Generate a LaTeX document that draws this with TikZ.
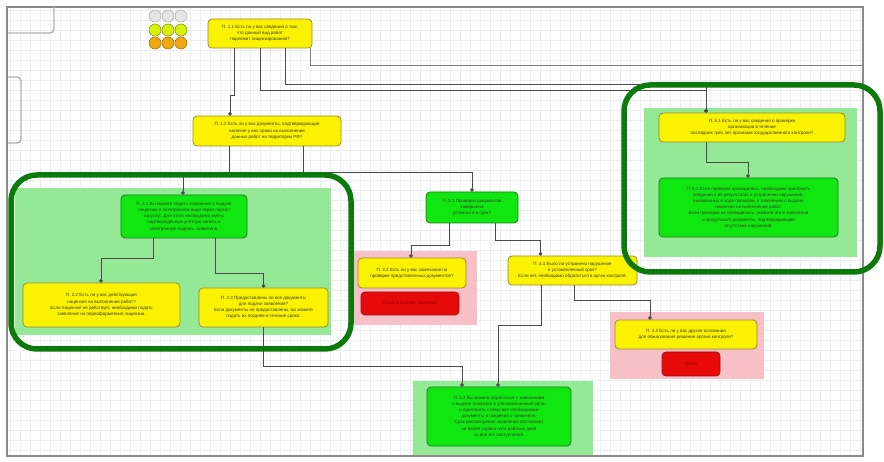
\documentclass[tikz,border=0pt]{standalone}
\usepackage{fontspec}
\setmainfont{Liberation Sans}
\usetikzlibrary{arrows.meta}

\definecolor{yfill}{HTML}{FAF200}
\definecolor{ydraw}{HTML}{9A8A30}
\definecolor{gfill}{HTML}{10E610}
\definecolor{gdraw}{HTML}{1F7A1F}
\definecolor{rfill}{HTML}{E60A0A}
\definecolor{rdraw}{HTML}{A01010}
\definecolor{rtext}{HTML}{8A0000}
\definecolor{panelgreen}{HTML}{95E895}
\definecolor{panelpink}{HTML}{F7BFC6}
\definecolor{ringgreen}{HTML}{0B7A0B}
\definecolor{connc}{HTML}{4A4A4A}
\definecolor{gridc}{HTML}{ECEFF2}
\definecolor{framec}{HTML}{8A8A8A}
\definecolor{txt}{HTML}{3A3A2A}
\definecolor{amber}{HTML}{F0A810}

\tikzset{
  box/.style={rounded corners=4pt, line width=0.8pt, align=center, inner sep=1pt,
    font=\fontsize{4.5}{6.2}\selectfont, text=txt},
  ybox/.style={box, fill=yfill, draw=ydraw},
  gbox/.style={box, fill=gfill, draw=gdraw},
  rbox/.style={box, fill=rfill, draw=rdraw, text=rtext},
  conn/.style={draw=connc, line width=0.8pt, -{Circle[length=3.5pt]}},
  connfree/.style={draw=connc!70, line width=0.8pt},
  ring/.style={draw=ringgreen, line width=5.5pt, rounded corners=26pt},
  dot/.style={circle, minimum size=12pt, inner sep=0pt, line width=0.6pt},
}

\begin{document}
\begin{tikzpicture}[x=1pt,y=-1pt]
\useasboundingbox (0,0) rectangle (884,462);
\fill[white] (0,0) rectangle (884,462);

% canvas grid and frame
\draw[gridc, line width=0.4pt, step=10pt] (8,8) grid (862,455);
\draw[framec, line width=1.8pt] (7,7) rectangle (863,456);

% partly hidden shapes at the left edge
\draw[gray!60, line width=1.4pt, rounded corners=4pt] (8,33) -- (54,33) -- (54,7);
\draw[gray!60, line width=1.4pt, rounded corners=4pt] (8,77) -- (21,77) -- (21,143) -- (8,143);

% colour legend dots
\foreach \x/\n in {155/a,168/b,181/c}{
  \node[dot, fill=gray!20, draw=gray!60] (top\n) at (\x,16) {};
  \node[dot, fill=yfill!85!green, draw=ydraw] (mid\n) at (\x,30) {};
  \node[dot, fill=amber, draw=amber!70!black] (bot\n) at (\x,43) {};
}

% background panels
\fill[panelgreen] (15,188) rectangle (331,335);
\fill[panelgreen] (644,108) rectangle (857,257);
\fill[panelgreen] (413,381) rectangle (593,455);
\fill[panelpink] (348,251) rectangle (477,325);
\fill[panelpink] (610,312) rectangle (764,379);

% decision nodes
\node[ybox, minimum width=104pt, minimum height=29pt] (n1) at (260,33.5)
  {П. 1.1 Есть ли у вас сведения о том,\\ что данный вид работ\\ подлежит лицензированию?};
\node[ybox, minimum width=148pt, minimum height=30pt] (n2) at (267,131)
  {П. 1.2 Есть ли у вас документы, подтверждающие\\ наличие у вас права на выполнение\\ данных работ на территории РФ?};
\node[gbox, minimum width=126pt, minimum height=43pt] (gL) at (184,216.5)
  {П. 2.1 Вы можете подать заявление о выдаче\\ лицензии в электронном виде через портал\\ госуслуг. Для этого необходимо иметь\\ подтверждённую учётную запись и\\ электронную подпись заявителя.};
\node[ybox, minimum width=157pt, minimum height=44pt] (yLL) at (101.5,305)
  {П. 2.2 Есть ли у вас действующая\\ лицензия на выполнение работ?\\ Если лицензия не действует, необходимо подать\\ заявление на переоформление лицензии.};
\node[ybox, minimum width=129pt, minimum height=39pt] (yLR) at (263.5,307.5)
  {П. 2.3 Предоставлены ли все документы\\ для подачи заявления?\\ Если документы не предоставлены, вы можете\\ подать их позднее в течение срока.};
\node[gbox, minimum width=92pt, minimum height=31pt] (gM) at (472,207.5)
  {П. 3.1 Проверка документов\\ завершена\\ успешно и в срок?};
\node[ybox, minimum width=108pt, minimum height=30pt] (yM) at (412,273)
  {П. 3.2 Есть ли у вас замечания по\\ проверке представленных документов?};
\node[rbox, minimum width=98pt, minimum height=23pt] (rM) at (410,303.5)
  {Отказ в выдаче лицензии};
\node[ybox, minimum width=129pt, minimum height=29pt] (yR2) at (572.5,270.5)
  {П. 4.1 Было ли устранено нарушение\\ в установленный срок?\\ Если нет, необходимо обратиться в орган контроля.};
\node[ybox, minimum width=142pt, minimum height=29pt] (yR3) at (686,334.5)
  {П. 4.2 Есть ли у вас другие основания\\ для обжалования решения органа контроля?};
\node[rbox, minimum width=58pt, minimum height=24pt] (rR) at (691,364)
  {Отказ};
\node[gbox, minimum width=144pt, minimum height=59pt] (gB) at (499,416.5)
  {П. 5.2 Вы можете обратиться с заявлением\\ о выдаче лицензии в уполномоченный орган\\ и приложить к нему все необходимые\\ документы и сведения о заявителе.\\ Срок рассмотрения заявления составляет\\ не более сорока пяти рабочих дней\\ со дня его поступления.};
\node[ybox, minimum width=186pt, minimum height=29pt] (yRT) at (752,127.5)
  {П. 5.1 Есть ли у вас сведения о проверке\\ организации в течение\\ последних трёх лет органами государственного контроля?};
\node[gbox, minimum width=179pt, minimum height=59pt] (gRT) at (748.5,207.5)
  {П. 6.1 Если проверка проводилась, необходимо приложить\\ сведения о её результатах и устранении нарушений,\\ выявленных в ходе проверки, к заявлению о выдаче\\ лицензии на выполнение работ.\\ Если проверка не проводилась, укажите это в заявлении\\ и представьте документы, подтверждающие\\ отсутствие нарушений.};

% connectors
\coordinate (exitR) at (863,65);
\draw[conn] ([xshift=-26pt]n1.south) -- ++(0,47) -| ([xshift=-37pt]n2.north);
\draw[conn] (n1.south) -- ++(0,42) -| ([xshift=-46pt]yRT.north);
\draw[conn] ([xshift=25pt]n1.south) -- ++(0,36) -| ([xshift=-46pt]yRT.north);
\draw[connfree] ([xshift=50pt]n1.south) |- (exitR);
\draw[conn] ([xshift=-38pt]n2.south) -- ++(0,30) -| ([xshift=-1pt]gL.north);
\draw[conn] ([xshift=36pt]n2.south) -- ++(0,26) -| (gM.north);
\draw[conn] ([xshift=-31pt]gL.south) -- ++(0,20) -| ([xshift=-0.5pt]yLL.north);
\draw[conn] ([xshift=31pt]gL.south) -- ++(0,35) -| (yLR.north);
\draw[conn] (yLR.south) -- ++(0,39) -| ([xshift=-37pt]gB.north);
\draw[conn] ([xshift=-23pt]gM.south) -- ++(0,22) -| ([xshift=-1pt]yM.north);
\draw[conn] ([xshift=23pt]gM.south) -- ++(0,17) -| ([xshift=-32pt]yR2.north);
\draw[conn] ([xshift=2pt]yR2.south) -- ++(0,15) -| ([xshift=-36pt]yR3.north);
\draw[conn] ([xshift=-31pt]yR2.south) -- ++(0,40) -| ([xshift=-1pt]gB.north);
\draw[conn] ([xshift=-46pt]yRT.south) -- ++(0,20) -| ([xshift=-0.5pt]gRT.north);

% highlight rings
\draw[ring] (11,175) rectangle (351,349);
\draw[ring] (624,85) rectangle (880,272);
\end{tikzpicture}
\end{document}
